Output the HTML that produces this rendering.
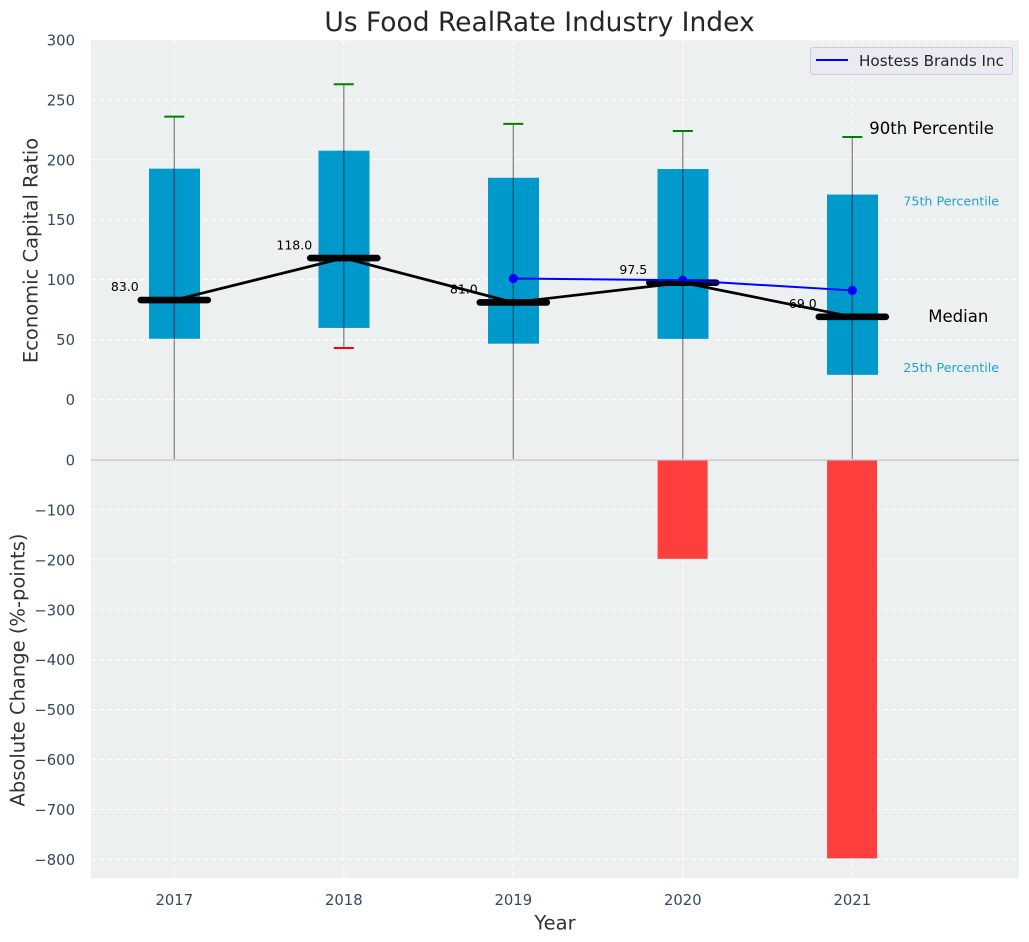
<!DOCTYPE html>
<html lang="en">
<head>
<meta charset="utf-8">
<title>Us Food RealRate Industry Index</title>
<style>
html,body{margin:0;padding:0;background:#fff;}
svg{display:block;font-family:"DejaVu Sans","Liberation Sans",sans-serif;}
</style>
</head>
<body>
<svg id="chart" xmlns="http://www.w3.org/2000/svg" width="1029" height="942" viewBox="0 0 1029 942">
<defs>
<clipPath id="clip-top"><rect x="91" y="40" width="928" height="419"/></clipPath>
<clipPath id="clip-bottom"><rect x="91" y="460" width="928" height="418"/></clipPath>
</defs>
<rect x="91" y="40" width="928" height="419" fill="#ecf0f1"/>
<rect x="91" y="460" width="928" height="418" fill="#ecf0f1"/>
<g id="grid"></g>
<g id="bottom-marks" clip-path="url(#clip-bottom)"></g>
<g id="top-marks" clip-path="url(#clip-top)"></g>
<line x1="91" x2="1019" y1="460" y2="460" stroke="#bdbdbd" stroke-width="1.3"/>
<g id="ticks"></g>
<text x="539.5" y="31" text-anchor="middle" font-size="26.5" fill="#262626">Us Food RealRate Industry Index</text>
<text transform="translate(37.5,250.5) rotate(-90)" text-anchor="middle" font-size="19.5" fill="#333333">Economic Capital Ratio</text>
<text transform="translate(24.5,670) rotate(-90)" text-anchor="middle" font-size="19.5" fill="#333333">Absolute Change (%-points)</text>
<text x="555" y="929.5" text-anchor="middle" font-size="19.5" fill="#333333">Year</text>
<g id="notes"></g>
<g>
<rect x="810.5" y="47.5" width="202" height="27" rx="3" fill="#eaeaf2" stroke="#cccccc" stroke-width="1"/>
<line x1="816" x2="848" y1="60" y2="60" stroke="#0000ff" stroke-width="2"/>
<text x="859" y="66" font-size="15.2" fill="#262626">Hostess Brands Inc</text>
</g>
</svg>
<script>
var years = [2017, 2018, 2019, 2020, 2021];
var p90 = [236, 263, 230, 224, 219];
var p75 = [192.6, 207.6, 185, 192.3, 171];
var medians = [83, 118, 81, 97.5, 69];
var p25 = [50.7, 59.7, 46.6, 50.6, 20.6];
var p10 = [-120, 43, -120, -120, -120];
var hostessYears = [2019, 2020, 2021];
var hostessValues = [101, 99.5, 91];
var changeYears = [2020, 2021];
var changeValues = [-198, -798];
var topTicks = [300, 250, 200, 150, 100, 50, 0];
var bottomTicks = [0, -100, -200, -300, -400, -500, -600, -700, -800];
var xTicks = [2017, 2018, 2019, 2020, 2021];

var NS = 'http://www.w3.org/2000/svg';

function xScale(v) { return 174.3 + (v - 2017) * 169.5; }
function yTop(v) { return 399.5 - v * 1.1985; }
function yBottom(v) { return 460 - v * 0.4992; }

function make(tag, parent, props) {
  var el = document.createElementNS(NS, tag);
  for (var k in props) { el.setAttribute(k, props[k]); }
  parent.appendChild(el);
  return el;
}
function minusLabel(v) { return String(v).replace('-', '\u2212'); }

var grid = document.getElementById('grid');
var topMarks = document.getElementById('top-marks');
var bottomMarks = document.getElementById('bottom-marks');
var ticks = document.getElementById('ticks');
var notes = document.getElementById('notes');
var DASH = '5 3';
var TICK_SIZE = 14.8;

topTicks.forEach(function (t) {
  var line = make('line', grid, { x1: 91, x2: 1019, y1: yTop(t), y2: yTop(t), stroke: '#ffffff', 'stroke-width': 1, 'stroke-dasharray': DASH });
  
  
  var label = make('text', ticks, { x: 75, y: yTop(t) + 5.5, 'text-anchor': 'end', 'font-size': TICK_SIZE, fill: '#34495e' });
  label.textContent = minusLabel(t);
  
  
});

bottomTicks.forEach(function (t) {
  if (t !== 0) {
    var line = make('line', grid, { x1: 91, x2: 1019, y1: yBottom(t), y2: yBottom(t), stroke: '#ffffff', 'stroke-width': 1, 'stroke-dasharray': DASH });
    
    
  }
  var label = make('text', ticks, { x: 75, y: yBottom(t) + 5.5, 'text-anchor': 'end', 'font-size': TICK_SIZE, fill: '#34495e' });
  label.textContent = minusLabel(t);
  
  
});

xTicks.forEach(function (t) {
  var line = make('line', grid, { x1: xScale(t), x2: xScale(t), y1: 40, y2: 878, stroke: '#ffffff', 'stroke-width': 1, 'stroke-dasharray': DASH });
  
  
  var label = make('text', ticks, { x: xScale(t), y: 905, 'text-anchor': 'middle', 'font-size': TICK_SIZE, fill: '#34495e' });
  label.textContent = String(t);
  
  
});

changeYears.forEach(function (yr, i) {
  var y0 = yBottom(0), y1 = yBottom(changeValues[i]);
  var bar = make('rect', bottomMarks, { x: xScale(yr) - 25.2, y: Math.min(y0, y1), width: 50, height: Math.abs(y1 - y0), fill: '#ff3e3e' });
  
  
});

years.forEach(function (yr, i) {
  var cx = xScale(yr);
  var box = make('rect', topMarks, { x: cx - 25.3, y: yTop(p75[i]), width: 51, height: yTop(p25[i]) - yTop(p75[i]), fill: '#0099cc' });
  
  
  var whisker = make('line', topMarks, { x1: cx, x2: cx, y1: yTop(p90[i]), y2: yTop(p10[i]), stroke: '#000000', 'stroke-opacity': 0.45, 'stroke-width': 1.3 });
  
  
  var capHigh = make('line', topMarks, { x1: cx - 10, x2: cx + 10, y1: yTop(p90[i]), y2: yTop(p90[i]), stroke: '#008000', 'stroke-width': 2 });
  
  
  var capLow = make('line', topMarks, { x1: cx - 10, x2: cx + 10, y1: yTop(p10[i]), y2: yTop(p10[i]), stroke: '#ff0000', 'stroke-width': 2 });
  
  
});

hostessYears.forEach(function (yr, i) {
  var dot = make('circle', topMarks, { cx: xScale(yr), cy: yTop(hostessValues[i]), r: 4.6, fill: '#0000ff' });
  
  
});

var medianPath = make('polyline', topMarks, {
  points: years.map(function (yr, i) { return xScale(yr) + ',' + yTop(medians[i]); }).join(' '),
  fill: 'none', stroke: '#000000', 'stroke-width': 2.7
});



years.forEach(function (yr, i) {
  var cx = xScale(yr);
  var bar = make('line', topMarks, { x1: cx - 33.5, x2: cx + 33.5, y1: yTop(medians[i]), y2: yTop(medians[i]), stroke: '#000000', 'stroke-width': 6.6, 'stroke-linecap': 'round' });
  
  
  var label = make('text', notes, { x: cx - 49.5, y: yTop(medians[i]) - 8.8, 'text-anchor': 'middle', 'font-size': 12.5, fill: '#000000' });
  label.textContent = medians[i].toFixed(1);
  
  
});

var hostessPath = make('polyline', topMarks, {
  points: hostessYears.map(function (yr, i) { return xScale(yr) + ',' + yTop(hostessValues[i]); }).join(' '),
  fill: 'none', stroke: '#0000ff', 'stroke-width': 2
});



var last = years.length - 1;
var lastX = xScale(years[last]);

var p90Note = make('text', notes, { x: lastX + 17, y: yTop(p90[last]) - 3, 'font-size': 16.5, fill: '#000000' });
p90Note.textContent = '90th Percentile';



var p75Note = make('text', notes, { x: lastX + 51, y: yTop(p75[last]) + 11, 'font-size': 12.7, fill: '#1fa3cf' });
p75Note.textContent = '75th Percentile';



var medianNote = make('text', notes, { x: lastX + 76, y: yTop(medians[last]) + 5, 'font-size': 16.5, fill: '#000000' });
medianNote.textContent = 'Median';



var p25Note = make('text', notes, { x: lastX + 51, y: yTop(p25[last]) - 3, 'font-size': 12.7, fill: '#1fa3cf' });
p25Note.textContent = '25th Percentile';


</script>
</body>
</html>
